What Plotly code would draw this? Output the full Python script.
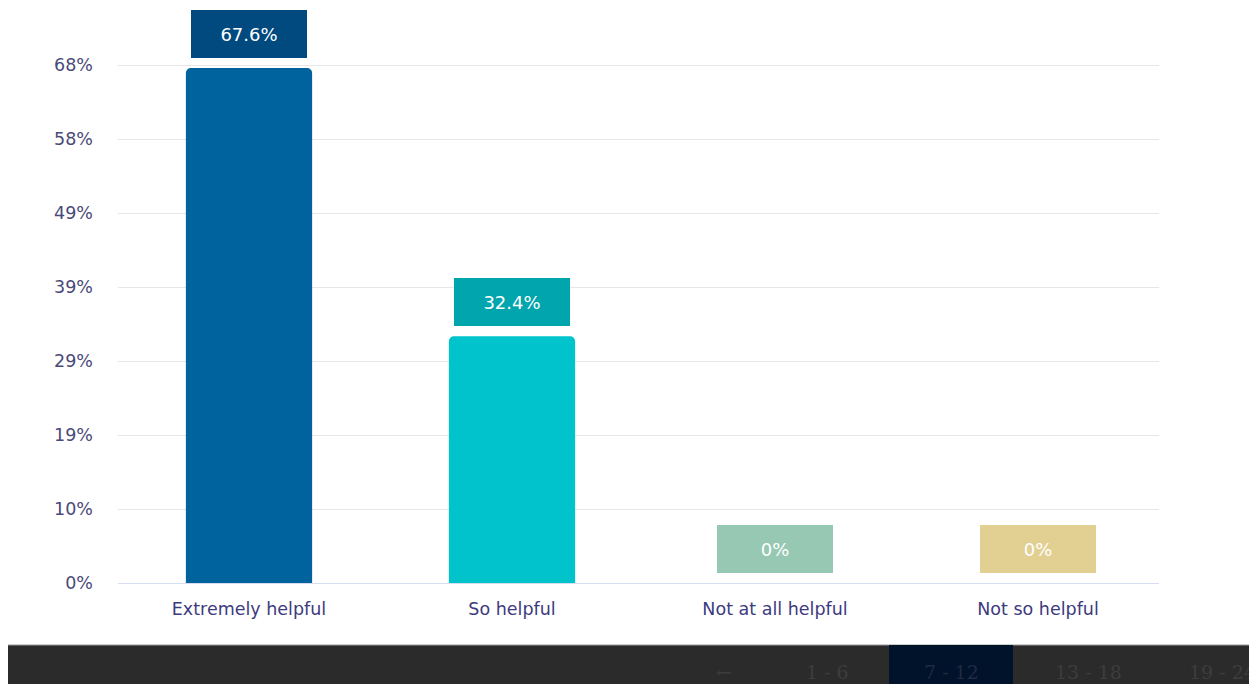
import plotly.graph_objects as go

# Survey responses: share of respondents per answer
categories = ["Extremely helpful", "So helpful", "Not at all helpful", "Not so helpful"]
shares = [67.6, 32.4, 0.0, 0.0]
value_labels = ["67.6%", "32.4%", "0%", "0%"]
bar_colors = ["#00639e", "#00c3cc", "#96c8b4", "#e2d092"]
label_colors = ["#004a80", "#00a5ad", "#96c8b4", "#e2d092"]

# Y axis: seven equal steps up to 68%
axis_top = 68
tick_values = [axis_top * k / 7 for k in range(8)]
tick_labels = ["0%", "10%", "19%", "29%", "39%", "49%", "58%", "68%"]

# Pagination strip under the chart
pages = ["\u2190", "1 - 6", "7 - 12", "13 - 18", "19 - 24"]
active_page = "7 - 12"

W, H = 1249, 684
plot_left, plot_right = 118, 1159
plot_top, plot_bottom = 0, 583
plot_h = plot_bottom - plot_top

fig = go.Figure()
fig.add_trace(go.Bar(
    x=categories,
    y=shares,
    marker=dict(color=bar_colors, line=dict(width=0), cornerradius=5),
    width=0.48,
    hoverinfo="skip",
))

# Value badges sitting above each bar
for cat, val, txt, col in zip(categories, shares, value_labels, label_colors):
    fig.add_annotation(
        x=cat, y=val, xref="x", yref="y",
        text=txt, showarrow=False,
        yanchor="bottom", yshift=10,
        width=116, height=48, borderpad=0,
        bgcolor=col, bordercolor=col, borderwidth=0,
        font=dict(family="'DejaVu Sans', sans-serif", size=18, color="#ffffff"),
    )

# Footer band with page selector
def py(pix):
    return (plot_bottom - pix) / plot_h

def px_(pix):
    return (pix - plot_left) / (plot_right - plot_left)

fig.add_shape(type="rect", xref="paper", yref="paper",
              x0=px_(8), x1=px_(W + 5), y0=py(H + 5), y1=py(645),
              fillcolor="#2b2b2b", line=dict(width=0), layer="above")
fig.add_shape(type="line", xref="paper", yref="paper",
              x0=px_(8), x1=px_(W + 5), y0=py(645), y1=py(645),
              line=dict(color="#9a9a9a", width=1), layer="above")
fig.add_shape(type="rect", xref="paper", yref="paper",
              x0=px_(889), x1=px_(1013), y0=py(H + 5), y1=py(645),
              fillcolor="#01122b", line=dict(width=0), layer="above")

page_centers = [724, 827, 951, 1088, 1222]
for label, cx in zip(pages, page_centers):
    fig.add_annotation(
        x=px_(cx), y=py(672), xref="paper", yref="paper",
        text=label, showarrow=False, xanchor="center", yanchor="middle",
        font=dict(family="'DejaVu Serif', 'Liberation Serif', serif", size=19,
                  color="#1f2a44" if label == active_page else "#3d3d3d"),
    )

# Category band is ~263 px wide, first centre at x = 249
band = 263
x_start = -(249 - plot_left) / band
x_end = x_start + (plot_right - plot_left) / band

fig.update_layout(
    width=W, height=H,
    margin=dict(l=plot_left, r=W - plot_right, t=plot_top, b=H - plot_bottom, pad=0),
    paper_bgcolor="#ffffff",
    plot_bgcolor="#ffffff",
    showlegend=False,
    font=dict(family="'DejaVu Sans', sans-serif"),
)
fig.update_xaxes(
    range=[x_start, x_end],
    showgrid=False, zeroline=False,
    showline=True, linecolor="#d5ddee", linewidth=1,
    ticks="", ticklabelstandoff=10,
    tickfont=dict(size=17.5, color="#3d3a7e"),
    fixedrange=True,
)
fig.update_yaxes(
    range=[0, axis_top * plot_h / (plot_bottom - 65)],
    tickvals=tick_values, ticktext=tick_labels,
    showgrid=True, gridcolor="#e6e6e6", gridwidth=1,
    zeroline=False, showline=False, ticks="",
    ticklabelstandoff=24,
    tickfont=dict(size=17.5, color="#4a4a78"),
    fixedrange=True,
)

fig.write_html("out.html", config={"displayModeBar": False})
